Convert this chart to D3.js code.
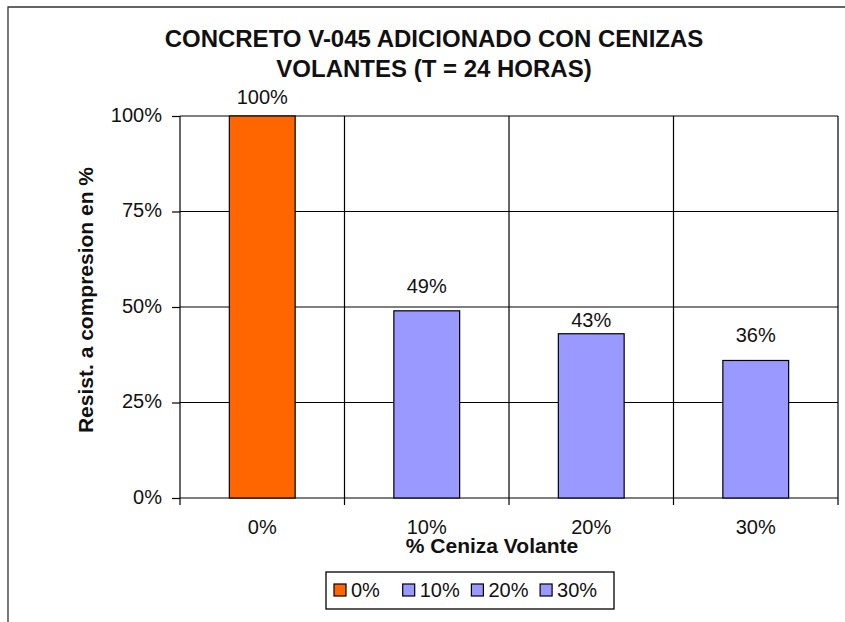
<!DOCTYPE html>
<html lang="es">
<head>
<meta charset="UTF-8">
<title>Concreto V-045 adicionado con cenizas volantes</title>
<style>
  body { margin: 0; background: #fff; }
  svg text { font-family: "Liberation Sans", Arial, sans-serif; fill: #111; }
</style>
</head>
<body>
<svg id="chart" width="845" height="622"></svg>
<script src="https://d3js.org/d3.v7.min.js"></script>
<script>
// data
var categories = ["0%", "10%", "20%", "30%"];
var values = [100, 49, 43, 36];
var yTicks = [0, 25, 50, 75, 100];
var titleLines = ["CONCRETO V-045 ADICIONADO CON CENIZAS", "VOLANTES (T = 24 HORAS)"];
var xTitle = "% Ceniza Volante";
var yTitle = "Resist. a compresion en %";

var colors = ["#ff6600", "#9999ff", "#9999ff", "#9999ff"];
var labelGap = [12, 18, 7, 18]; // labels were nudged by hand in the original

var svg = d3.select("#chart");
var margin = { top: 116, right: 7, bottom: 124, left: 180 },
    width = 845 - margin.left - margin.right,
    height = 622 - margin.top - margin.bottom;

// outer frame (only left and top edges are visible)
svg.append("path")
    .attr("d", "M8,622V7H845")
    .attr("fill", "none")
    .attr("stroke", "#333")
    .attr("stroke-width", 1.3);

// title
svg.append("g").selectAll("text")
    .data(titleLines)
    .enter().append("text")
    .attr("x", 434)
    .attr("y", function(d, i) { return 47 + i * 30; })
    .attr("text-anchor", "middle")
    .style("font-size", "24px")
    .style("font-weight", "bold")
    .text(function(d) { return d; });

var g = svg.append("g")
    .attr("transform", "translate(" + margin.left + "," + margin.top + ")");

var x = d3.scaleBand()
    .domain(categories)
    .range([0, width])
    .padding(0);

var y = d3.scaleLinear()
    .domain([0, 100])
    .range([height, 0]);

// horizontal gridlines
g.append("g").selectAll("line")
    .data(yTicks)
    .enter().append("line")
    .attr("x1", 0)
    .attr("x2", width)
    .attr("y1", function(d) { return y(d); })
    .attr("y2", function(d) { return y(d); })
    .attr("stroke", "#000")
    .attr("stroke-width", 1.2);

// vertical category dividers, running a little below the axis
var edges = categories.map(function(c) { return x(c); }).concat([width]);
g.append("g").selectAll("line")
    .data(edges)
    .enter().append("line")
    .attr("x1", function(d) { return d; })
    .attr("x2", function(d) { return d; })
    .attr("y1", 0)
    .attr("y2", height + 7)
    .attr("stroke", "#000")
    .attr("stroke-width", 1.2);

// y axis
var yAxis = g.append("g")
    .call(d3.axisLeft(y)
        .tickValues(yTicks)
        .tickSize(8)
        .tickSizeOuter(0)
        .tickPadding(10)
        .tickFormat(function(d) { return d + "%"; }));
yAxis.select(".domain").remove();
yAxis.selectAll(".tick line").attr("stroke", "#000").attr("stroke-width", 1.2);
yAxis.selectAll("text")
    .attr("dy", "0.26em")
    .style("font-size", "20px")
    .style("font-family", "'Liberation Sans', Arial, sans-serif")
    .attr("fill", "#111");

// x axis labels
var xAxis = g.append("g")
    .attr("transform", "translate(0," + height + ")")
    .call(d3.axisBottom(x).tickSize(0).tickPadding(22));
xAxis.select(".domain").remove();
xAxis.selectAll("text")
    .style("font-size", "20px")
    .style("font-family", "'Liberation Sans', Arial, sans-serif")
    .attr("fill", "#111");

// bars
var barW = x.bandwidth() * 0.4;
g.selectAll(".bar")
    .data(values)
    .enter().append("rect")
    .attr("class", "bar")
    .attr("x", function(d, i) { return x(categories[i]) + (x.bandwidth() - barW) / 2; })
    .attr("y", function(d) { return y(d); })
    .attr("width", barW)
    .attr("height", function(d) { return height - y(d); })
    .attr("fill", function(d, i) { return colors[i]; })
    .attr("stroke", "#000")
    .attr("stroke-width", 1.2);

// value labels
g.selectAll(".val")
    .data(values)
    .enter().append("text")
    .attr("class", "val")
    .attr("x", function(d, i) { return x(categories[i]) + x.bandwidth() / 2; })
    .attr("y", function(d, i) { return y(d) - labelGap[i]; })
    .attr("text-anchor", "middle")
    .style("font-size", "20px")
    .text(function(d) { return d + "%"; });

// axis titles
svg.append("text")
    .attr("x", 492)
    .attr("y", 553)
    .attr("text-anchor", "middle")
    .style("font-size", "21px")
    .style("font-weight", "bold")
    .text(xTitle);

svg.append("text")
    .attr("transform", "translate(93,300) rotate(-90)")
    .attr("text-anchor", "middle")
    .style("font-size", "21px")
    .style("font-weight", "bold")
    .text(yTitle);

// legend
var legend = svg.append("g").attr("transform", "translate(326,572)");
legend.append("rect")
    .attr("width", 288)
    .attr("height", 37)
    .attr("fill", "#fff")
    .attr("stroke", "#000")
    .attr("stroke-width", 1.3);

var item = legend.selectAll(".item")
    .data(categories)
    .enter().append("g")
    .attr("class", "item")
    .attr("transform", function(d, i) { return "translate(" + (8 + i * 68.7) + ",0)"; });

item.append("rect")
    .attr("y", 12)
    .attr("width", 12)
    .attr("height", 12)
    .attr("fill", function(d, i) { return colors[i]; })
    .attr("stroke", "#000")
    .attr("stroke-width", 1.2);

item.append("text")
    .attr("x", 17)
    .attr("y", 25)
    .style("font-size", "20px")
    .text(function(d) { return d; });
</script>
</body>
</html>
